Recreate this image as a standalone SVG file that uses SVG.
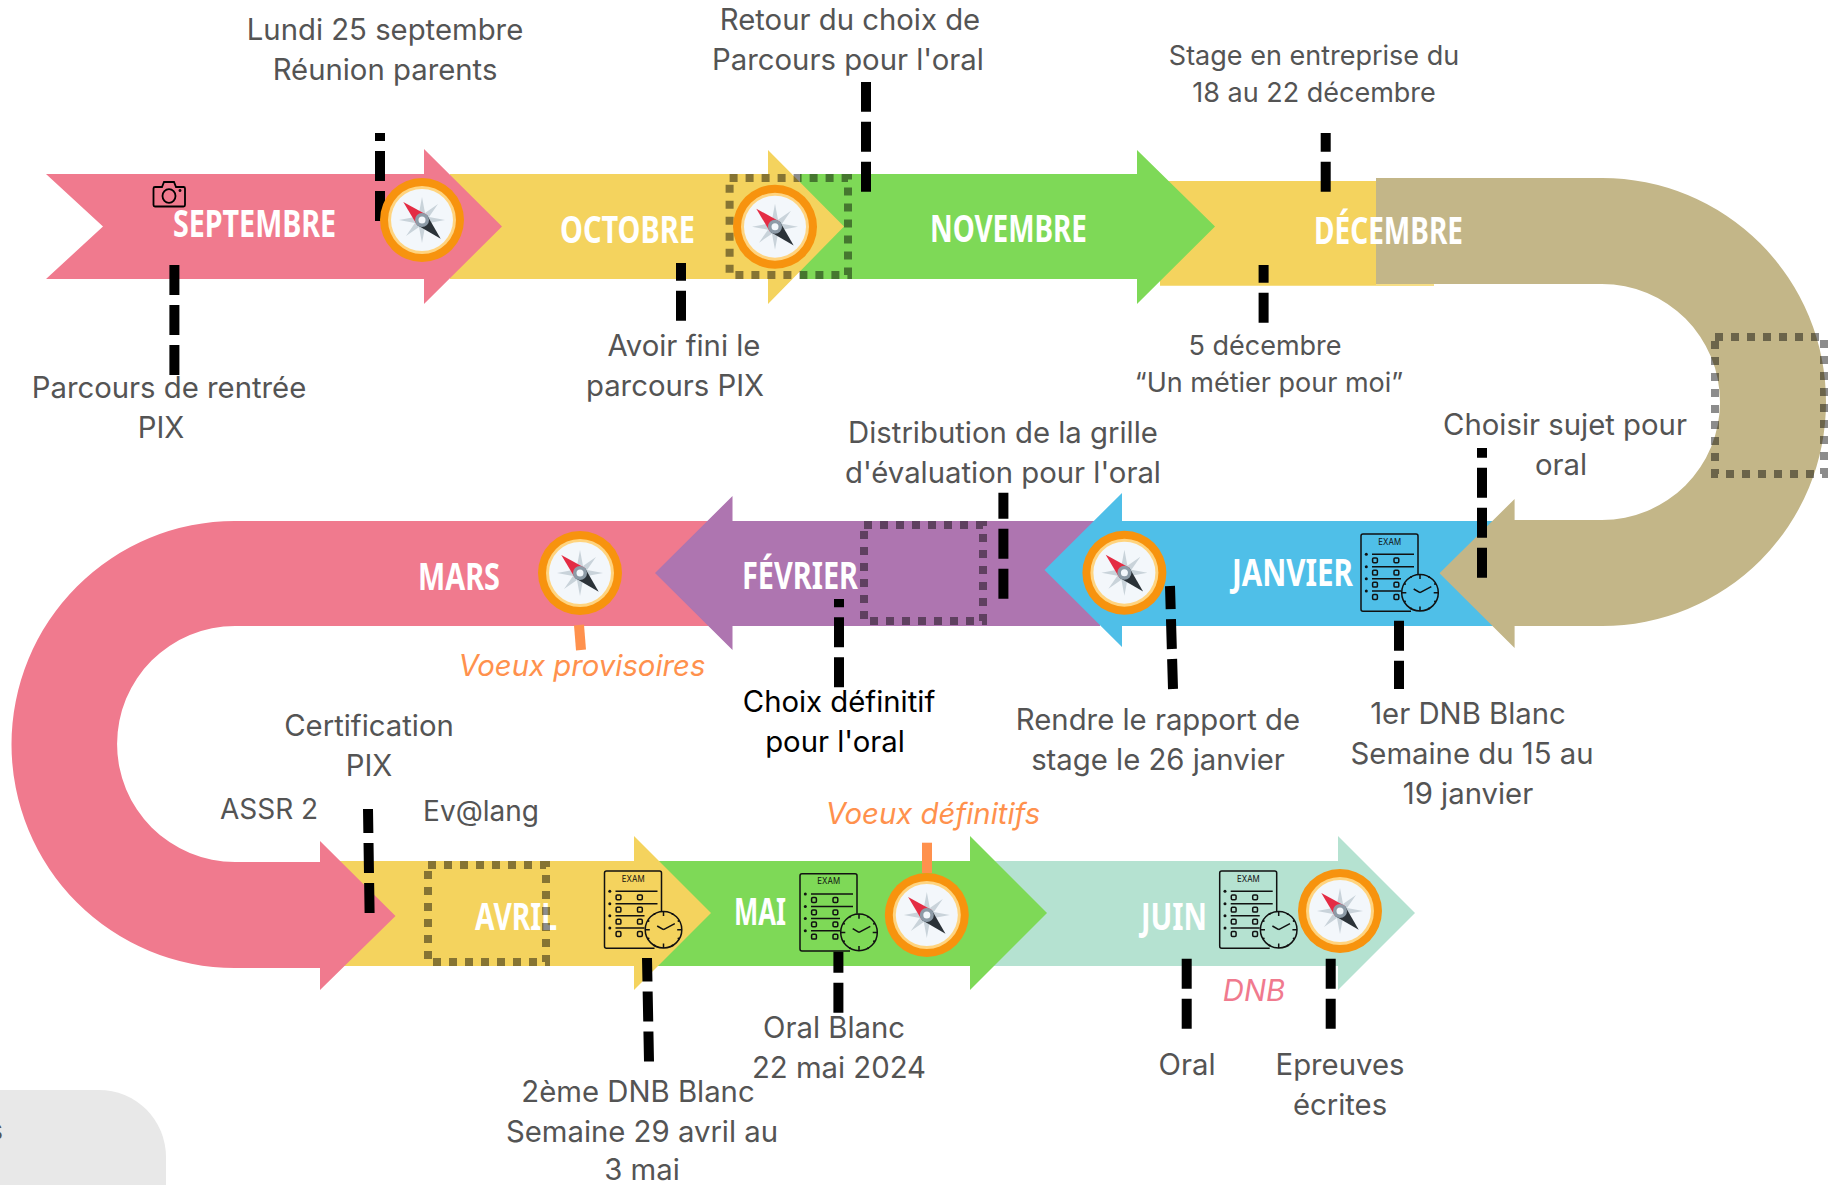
<svg xmlns="http://www.w3.org/2000/svg" width="1837" height="1185" viewBox="0 0 1837 1185">
<style>
text{font-family:"Inter","Noto Sans","Liberation Sans",sans-serif}
.t{font-size:29.300px;fill:#545454;text-anchor:middle}
.s{font-size:27px}
.a{font-size:28px}
.k{fill:#000}
.o{fill:#ff914d;font-style:italic}
.p{fill:#f07a8e;font-style:italic}
.m{font-family:"Liberation Sans Narrow","Noto Sans",sans-serif;font-weight:700;font-size:38px;fill:#fff}
.d{fill:none;stroke:#000;stroke-width:10;stroke-dasharray:30 10}
.q{fill:none;stroke:#ff914d;stroke-width:10}
.r{fill:none;stroke:#000;stroke-opacity:.45;stroke-width:8;stroke-dasharray:8 8}
.e{fill:none;stroke:#111;stroke-width:1.500}
</style>
<defs>
<g id="compass">
<circle r="42" fill="#f7930e"/>
<circle r="34" fill="#ffd47f"/>
<circle r="31" fill="#f3f7fb"/>
<polygon fill="#c9d3da" points="0,-23 3,-7 16,-16 7,-3 23,0 7,3 16,16 3,7 0,23 -3,7 -16,16 -7,3 -23,0 -7,-3 -16,-16 -3,-7"/>
<polygon fill="#e42c44" points="-18.7,-18 5,-5 -5,5"/>
<polygon fill="#2b3238" points="18.7,18.7 5,-5 -5,5"/>
<circle r="7" fill="#8d9ba7"/>
<circle r="3.500" fill="#f3f7fb"/>
</g>
<g id="exam">
<path class="e" d="M50,77.3H2Q0,77.3 0,75.3V2Q0,0 2,0H55Q57,0 57,2V40"/>
<text x="28.700" y="10.500" font-size="9" fill="#111" text-anchor="middle" textLength="22.700" lengthAdjust="spacingAndGlyphs">EXAM</text>
<path class="e" d="M11,20.3H53M11,32.7H53M11,44.7H40M11,57H40"/>
<g fill="#111"><circle cx="5.300" cy="20.300" r="1.500"/><circle cx="5.300" cy="32.700" r="1.500"/><circle cx="5.300" cy="44.700" r="1.500"/><circle cx="5.300" cy="57" r="1.500"/></g>
<g class="e">
<rect x="11.600" y="23.900" width="4.800" height="4.800" rx="1.200"/><rect x="33" y="23.900" width="4.800" height="4.800" rx="1.200"/>
<rect x="11.600" y="36.300" width="4.800" height="4.800" rx="1.200"/><rect x="33" y="36.300" width="4.800" height="4.800" rx="1.200"/>
<rect x="11.600" y="48.300" width="4.800" height="4.800" rx="1.200"/><rect x="33" y="48.300" width="4.800" height="4.800" rx="1.200"/>
<rect x="11.600" y="60.600" width="4.800" height="4.800" rx="1.200"/><rect x="33" y="60.600" width="4.800" height="4.800" rx="1.200"/>
<circle cx="59" cy="58.700" r="18.300"/>
<path d="M59,40.4V45M59,77V72.4M40.7,58.7H45.3M77.3,58.7H72.7M59,58.7L52.7,55M59,58.7L70.3,52.7"/>
</g>
<g fill="#111"><circle cx="50" cy="43" r="1"/><circle cx="68" cy="43" r="1"/><circle cx="74" cy="50" r="1"/><circle cx="74" cy="67.500" r="1"/><circle cx="68" cy="74.500" r="1"/><circle cx="50" cy="74.500" r="1"/><circle cx="44" cy="67.500" r="1"/><circle cx="44" cy="50" r="1"/></g>
</g>
</defs>
<rect width="1837" height="1185" fill="#fff"/>

<g id="corner">
<path d="M0,1090H99A67,67 0 0 1 166,1157V1185H0Z" fill="#e8e8e8"/>
<text x="3" y="1140" font-size="28" fill="#545454" text-anchor="end">s</text>
</g>

<g id="juin">
<polygon fill="#b5e2d1" points="980,861 1338,861 1338,836 1415,913 1338,990 1338,966 980,966"/>
<text class="m" x="1141" y="930" textLength="66" lengthAdjust="spacingAndGlyphs">JUIN</text>
</g>
<g id="mai">
<polygon fill="#7ed957" points="650,861 970,861 970,836 1047,913 970,990 970,966 650,966"/>
<text class="m" x="734" y="925" textLength="52" lengthAdjust="spacingAndGlyphs">MAI</text>
</g>
<g id="avril">
<polygon fill="#f4d35e" points="340,861 634,861 634,836 711,913 634,990 634,966 340,966"/>
<text class="m" x="475" y="930" textLength="82" lengthAdjust="spacingAndGlyphs">AVRIL</text>
</g>
<g id="mars">
<path fill="#f07a8e" d="M725,521H235A223.5,223.5 0 0 0 235,968H320V990L395.500,916L320,841V862H235A117,117 0 0 1 235,626H725Z"/>
<text class="m" x="418" y="590" textLength="82" lengthAdjust="spacingAndGlyphs">MARS</text>
</g>
<g id="fevrier">
<polygon fill="#ae75b0" points="1100,521 732.500,521 732.500,496 655,573 732.500,650 732.500,626 1100,626"/>
<text class="m" x="742" y="589" textLength="116" lengthAdjust="spacingAndGlyphs">FÉVRIER</text>
</g>
<g id="janvier">
<polygon fill="#4fbfe8" points="1510,521 1122,521 1122,493 1044.500,570 1122,647 1122,626 1510,626"/>
<text class="m" x="1232" y="586" textLength="121" lengthAdjust="spacingAndGlyphs">JANVIER</text>
</g>
<g id="virage">
<path fill="#c3b688" d="M1376,178H1602A224,224 0 0 1 1602,626H1514.600V648L1439.500,573.300L1514.600,499V520H1602A118,118 0 0 0 1602,284H1376Z"/>
</g>
<g id="decembre">
<polygon fill="#f4d35e" points="1160,181 1376,181 1376,284.300 1434,284.300 1434,285.700 1160,285.700"/>
<text class="m" x="1314" y="244" textLength="149" lengthAdjust="spacingAndGlyphs">DÉCEMBRE</text>
</g>
<g id="novembre">
<polygon fill="#7ed957" points="800,174 1137,174 1137,150 1215,226.500 1137,304 1137,279 800,279"/>
<text class="m" x="930" y="242" textLength="157" lengthAdjust="spacingAndGlyphs">NOVEMBRE</text>
</g>
<g id="octobre">
<polygon fill="#f4d35e" points="450,174 768,174 768,150 844,226.500 768,304 768,279 450,279"/>
<text class="m" x="560" y="243" textLength="135" lengthAdjust="spacingAndGlyphs">OCTOBRE</text>
</g>
<g id="septembre">
<polygon fill="#f07a8e" points="46,174 424,174 424,149 502,226.500 424,304 424,279 46,279 103,226.500"/>
<text class="m" x="173" y="237" textLength="163" lengthAdjust="spacingAndGlyphs">SEPTEMBRE</text>
<g id="camera" fill="none" stroke="#000" stroke-width="1.800">
<path d="M155,187H162L164,182H174L176,187H183.500Q185,187 185,188.500V205Q185,206.500 183.500,206.500H155Q153.500,206.500 153.500,205V188.500Q153.500,187 155,187Z"/>
<ellipse cx="169" cy="196" rx="6.500" ry="6.800"/>
<circle cx="180" cy="190.500" r=".6"/>
</g>
</g>

<g id="dotted">
<rect class="r" x="729.600" y="178" width="118.400" height="97"/>
<rect class="r" x="1715" y="337" width="109" height="137"/>
<rect class="r" x="864" y="525" width="119" height="96"/>
<rect class="r" x="428" y="865" width="118" height="97"/>
</g>

<g id="connectors">
<path class="d" d="M174.400,265V375"/>
<path class="d" d="M380,221V133"/>
<path class="d" d="M681,320.700V263"/>
<path class="d" d="M866,191.700V82"/>
<path class="d" d="M1325.700,191.700V133"/>
<path class="d" d="M1263.600,322.700V265"/>
<path class="d" d="M1482,577.700V448"/>
<path class="d" d="M1399,620.700V689"/>
<path class="d" d="M1003.400,598.700V492.700"/>
<path class="d" d="M839,687.300V599"/>
<path class="d" d="M1173,689L1170,586"/>
<path class="d" d="M369.600,913L368,809"/>
<path class="d" d="M649,1061.500L647,958"/>
<path class="d" d="M838.400,1012.700V951.700"/>
<path class="d" d="M1186.700,958.700V1029"/>
<path class="d" d="M1330.700,958.700V1029"/>
<path class="q" d="M579,625L581,650"/>
<path class="q" d="M927,842.700V873"/>
</g>

<g id="icons">
<use href="#compass" x="422" y="220"/>
<use href="#compass" x="775" y="226.700"/>
<use href="#compass" x="580" y="573"/>
<use href="#compass" x="1124.400" y="572.700"/>
<use href="#compass" x="926.800" y="915"/>
<use href="#compass" x="1340" y="911"/>
<use href="#exam" x="1361" y="534"/>
<use href="#exam" x="604.500" y="871"/>
<use href="#exam" x="800" y="873.700"/>
<use href="#exam" x="1219.700" y="871"/>
</g>

<g id="labels">
<text class="t" x="385" y="40">Lundi 25 septembre</text>
<text class="t" x="385" y="80">Réunion parents</text>
<text class="t" x="850" y="30">Retour du choix de</text>
<text class="t" x="848" y="70">Parcours pour l'oral</text>
<text class="t s" x="1314" y="65">Stage en entreprise du</text>
<text class="t s" x="1314" y="102">18 au 22 décembre</text>
<text class="t" x="169" y="398">Parcours de rentrée</text>
<text class="t" x="161" y="438">PIX</text>
<text class="t" x="684" y="356">Avoir fini le</text>
<text class="t" x="675" y="396">parcours PIX</text>
<text class="t s" x="1265" y="355">5 décembre</text>
<text class="t s" x="1269" y="392">“Un métier pour moi”</text>
<text class="t" x="1003" y="443">Distribution de la grille</text>
<text class="t" x="1003" y="483">d'évaluation pour l'oral</text>
<text class="t" x="1565" y="435">Choisir sujet pour</text>
<text class="t" x="1561" y="475">oral</text>
<text class="t o" x="582" y="676">Voeux provisoires</text>
<text class="t k" x="839" y="712">Choix définitif</text>
<text class="t k" x="835" y="752">pour l'oral</text>
<text class="t" x="1158" y="730">Rendre le rapport de</text>
<text class="t" x="1158" y="770">stage le 26 janvier</text>
<text class="t" x="1468" y="724">1er DNB Blanc</text>
<text class="t" x="1472" y="764">Semaine du 15 au</text>
<text class="t" x="1468" y="804">19 janvier</text>
<text class="t" x="369" y="736">Certification</text>
<text class="t" x="369" y="776">PIX</text>
<text class="t a" x="269" y="819">ASSR 2</text>
<text class="t a" x="481" y="821">Ev@lang</text>
<text class="t o" x="933" y="824">Voeux définitifs</text>
<text class="t" x="834" y="1038">Oral Blanc</text>
<text class="t" x="839" y="1078">22 mai 2024</text>
<text class="t" x="638" y="1102">2ème DNB Blanc</text>
<text class="t" x="642" y="1142">Semaine 29 avril au</text>
<text class="t" x="642" y="1180">3 mai</text>
<text class="t p" x="1254" y="1001">DNB</text>
<text class="t" x="1187" y="1075">Oral</text>
<text class="t" x="1340" y="1075">Epreuves</text>
<text class="t" x="1340" y="1115">écrites</text>
</g>
</svg>
